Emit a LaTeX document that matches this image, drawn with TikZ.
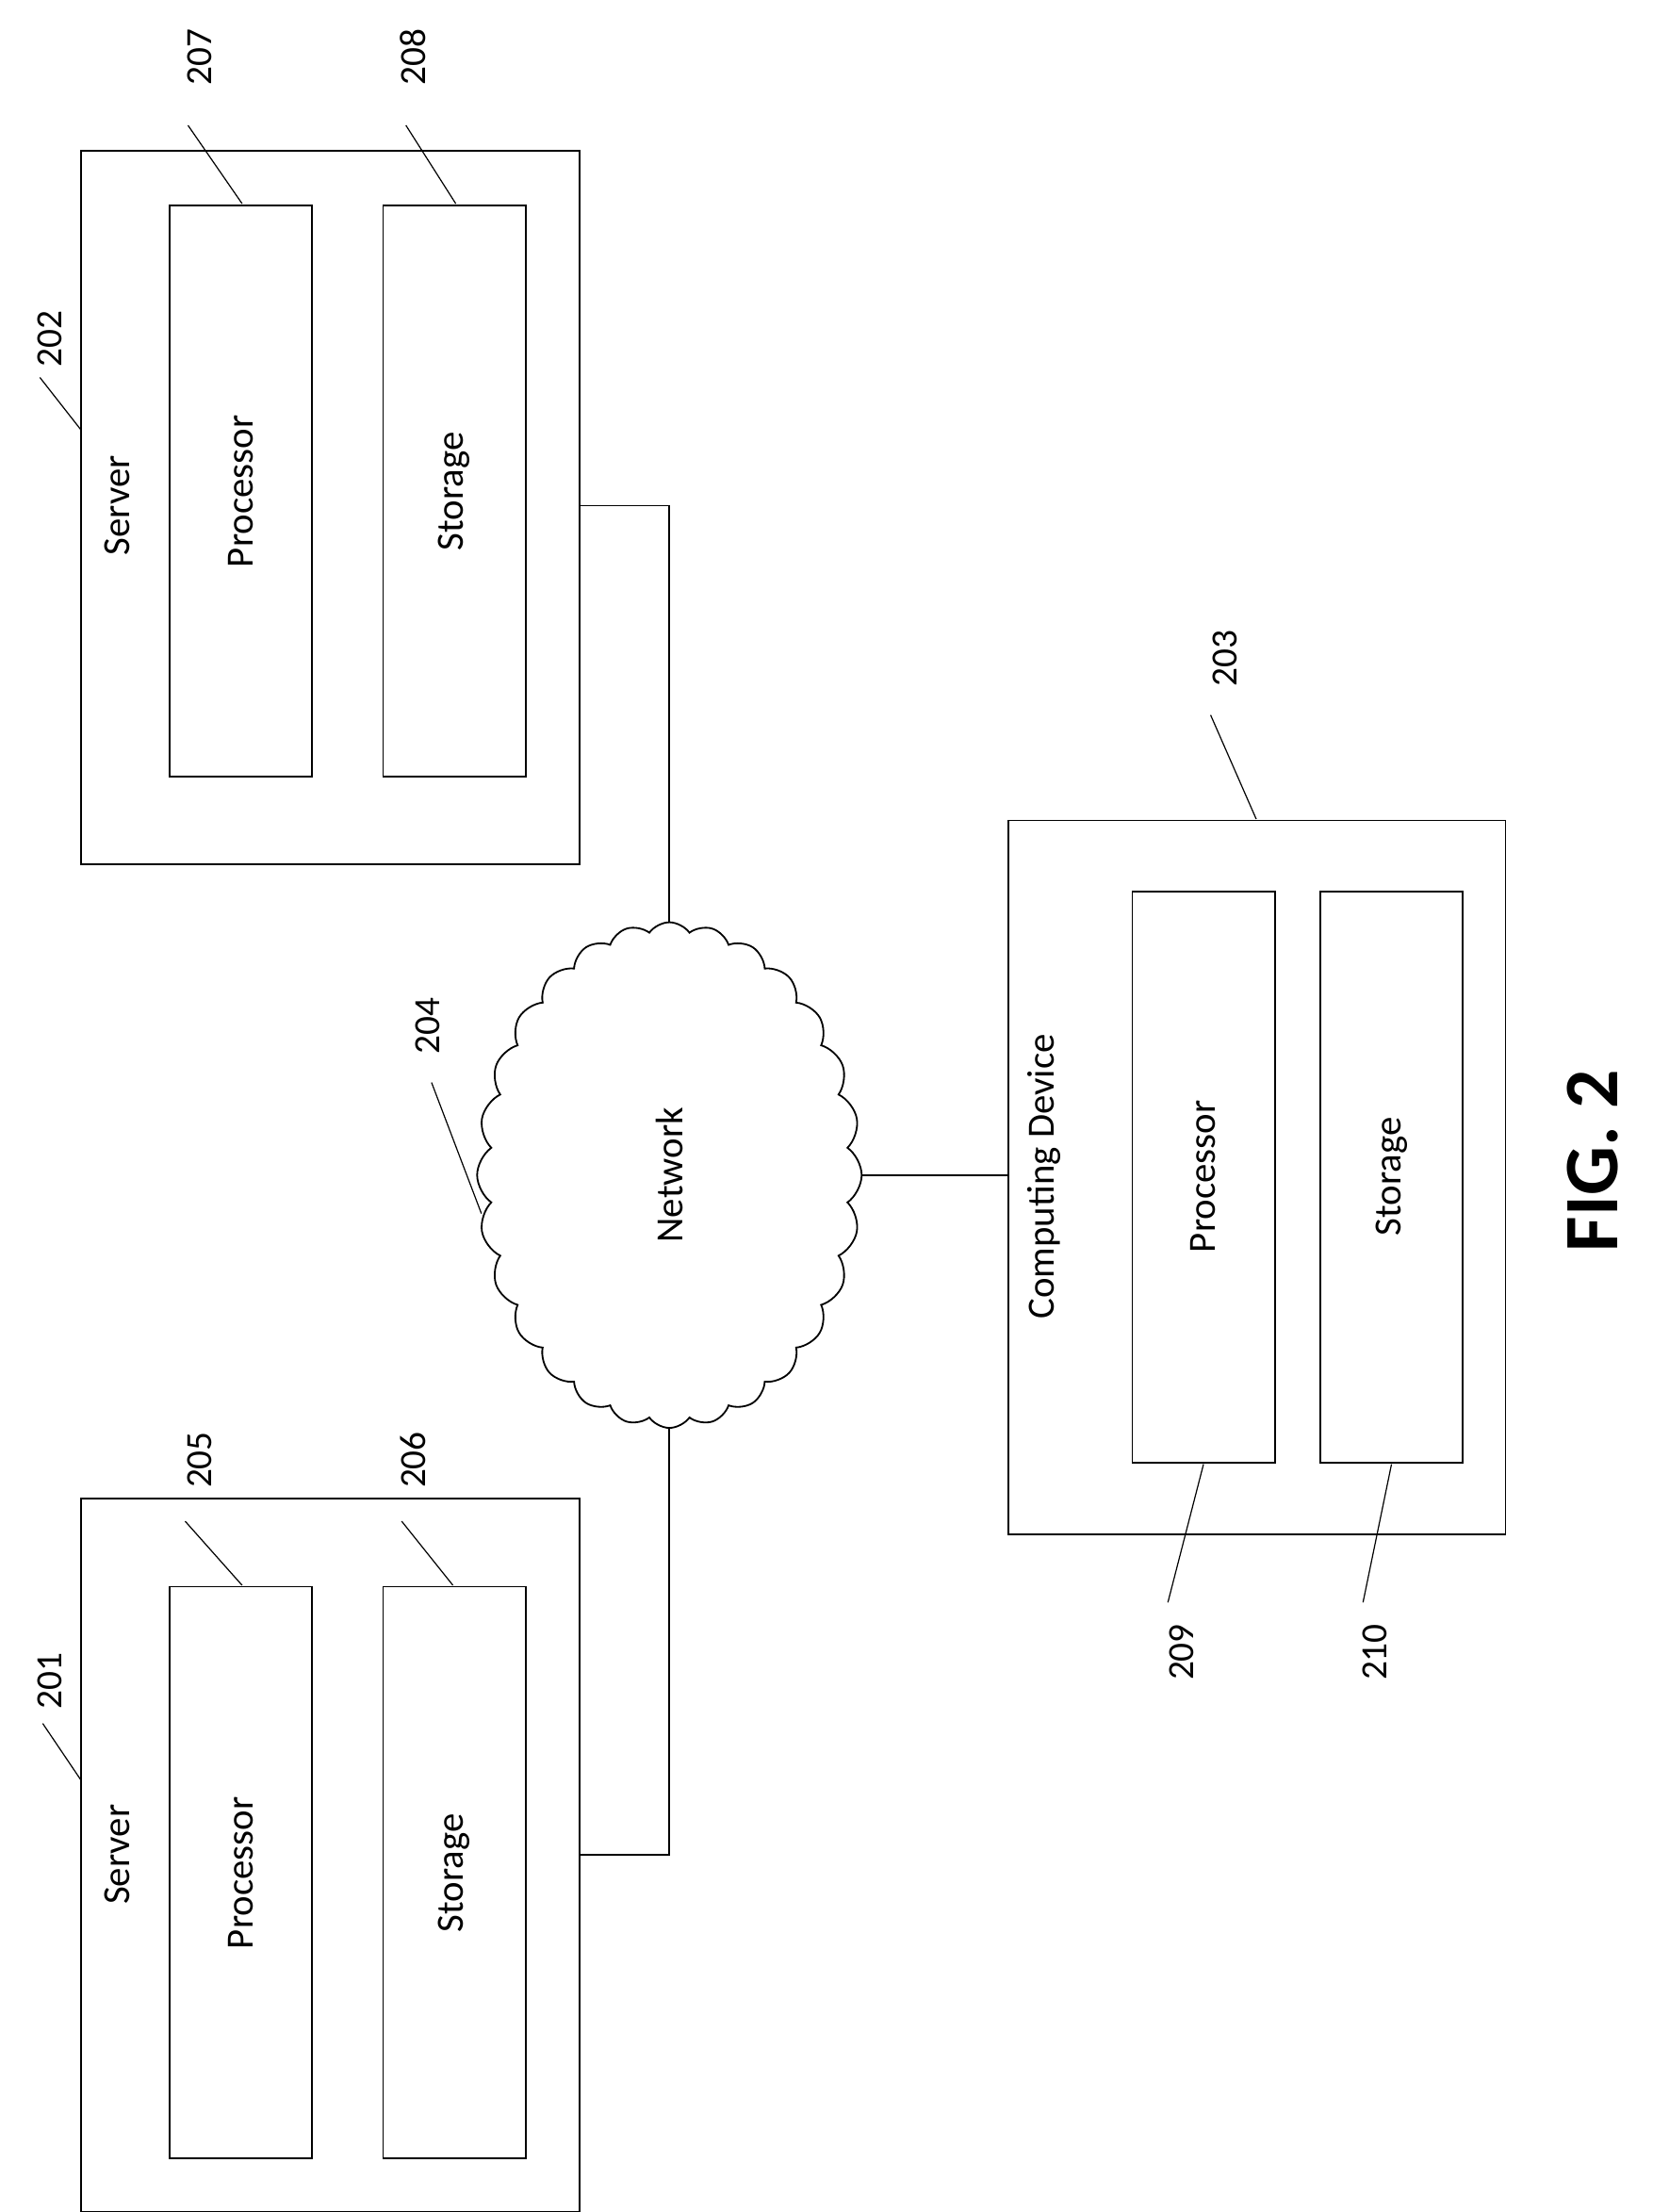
\documentclass[tikz,border=0pt]{standalone}
\usepackage{fontspec}
\setmainfont{Carlito}
\usetikzlibrary{shapes.symbols}
\tikzset{
    box/.style={draw, line width=1.2pt, inner sep=0pt},
    lbl/.style={rotate=90, font=\fontsize{27}{30}\selectfont},
    num/.style={rotate=90, font=\fontsize{26}{30}\selectfont},
    lead/.style={line width=0.8pt},
}
\begin{document}
\begin{tikzpicture}[x=1pt,y=-1pt]
\useasboundingbox (0,0) rectangle (1160,1553);
% server 202
\draw[box] (57,106) rectangle (407,607);
\draw[box] (119,144) rectangle (219,545);
\draw[box] (269,144) rectangle (369,545);
\node[lbl] (s2) at (82,355) {Server};
\node[lbl] (p2) at (169,345) {Processor};
\node[lbl] (t2) at (319,345) {Storage};
% server 201
\draw[box] (57,1052) rectangle (407,1553);
\draw[box] (119,1114) rectangle (219,1515);
\draw[box] (269,1114) rectangle (369,1515);
\node[lbl] (s1) at (82,1302) {Server};
\node[lbl] (p1) at (169,1315) {Processor};
\node[lbl] (t1) at (319,1315) {Storage};
% computing device 203
\draw[box] (708,576) rectangle (1057,1077);
\draw[box] (795,626) rectangle (895,1027);
\draw[box] (927,626) rectangle (1027,1027);
\node[lbl] (cd) at (733,826) {Computing Device};
\node[lbl] (p3) at (845,826) {Processor};
\node[lbl] (t3) at (977,826) {Storage};
% network
\node[cloud, draw, line width=1.2pt, cloud puffs=28, cloud puff arc=110, aspect=0.76,
      minimum width=270, minimum height=355, inner sep=0pt] (net) at (470,825) {};
\node[lbl] at (net.center) {Network};
% links
\draw[box] (407,355) -| (net.north);
\draw[box] (407,1302) -| (net.south);
\draw[box] (net.east) -- (708,825);
% reference numerals
\node[num] at (35,1180) {201};
\draw[lead] (30,1210) -- (57,1250);
\node[num] at (35,238) {202};
\draw[lead] (28,265) -- (57,302);
\node[num] at (140,1025) {205};
\draw[lead] (130,1068) -- (170,1113);
\node[num] at (290,1025) {206};
\draw[lead] (282,1068) -- (318,1113);
\node[num] at (140,40) {207};
\draw[lead] (132,88) -- (170,143);
\node[num] at (290,40) {208};
\draw[lead] (285,88) -- (320,143);
\node[num] at (860,462) {203};
\draw[lead] (850,502) -- (882,575);
\node[num] at (300,720) {204};
\draw[lead] (303,760) -- (338,852);
\node[num] at (830,1160) {209};
\draw[lead] (820,1125) -- (845,1028);
\node[num] at (965,1160) {210};
\draw[lead] (957,1125) -- (977,1028);
\node[rotate=90, font=\fontsize{54}{60}\selectfont\bfseries] at (1118,815) {FIG. 2};
\end{tikzpicture}
\end{document}
